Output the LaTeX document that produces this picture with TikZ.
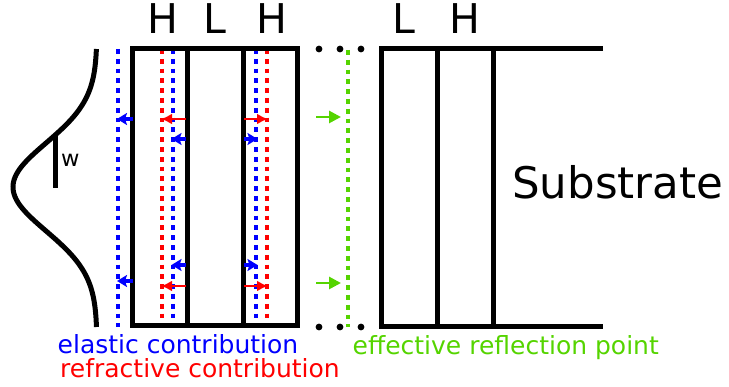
\documentclass[tikz,border=0pt]{standalone}
\usepackage{fontspec}
\setmainfont{DejaVu Sans}
\usetikzlibrary{arrows.meta}
\definecolor{elblue}{RGB}{0,0,255}
\definecolor{refred}{RGB}{255,0,0}
\definecolor{effgreen}{RGB}{85,212,0}

\tikzset{
  wall/.style={line width=5pt, black},
  dotline/.style={line width=4.6pt, dash pattern=on 4.8pt off 5pt},
  layerlabel/.style={anchor=base, inner sep=0pt, font=\fontsize{41}{41}\selectfont},
  caption/.style={anchor=base west, inner sep=0pt, font=\fontsize{25}{25}\selectfont},
  bluearrow/.style={elblue, line width=3.4pt, -{Stealth[length=10pt,width=12pt,inset=2pt]}},
  redarrow/.style={refred, line width=2.6pt, -{Latex[length=11pt,width=11pt]}},
  greenarrow/.style={effgreen, line width=2.8pt, -{Triangle[length=12pt,width=12pt]}},
  enddot/.style={black}
}

\begin{document}
\begin{tikzpicture}[x=1pt,y=-1pt]
\useasboundingbox (0,0) rectangle (729,387);

% beam profile (Gaussian) with its half width
\draw[line width=5pt] plot[domain=49:327, samples=120, smooth]
  ({97-84*exp(-0.5*((\x-187)/44)^2)}, \x);
\draw[line width=5pt] (55,135) -- (55,188);
\node[anchor=base west, inner sep=0pt, font=\fontsize{22.5}{22.5}\selectfont] (wlab) at (61,167) {w};

% elastic and refractive reflection planes
\draw[dotline, elblue] (118,49) -- (118,327);
\draw[dotline, refred] (162,49) -- (162,326);
\draw[dotline, elblue] (173,49) -- (173,326);
\draw[dotline, elblue] (256,49) -- (256,326);
\draw[dotline, refred] (267,49) -- (267,326);
% effective reflection plane
\draw[dotline, effgreen] (348,50) -- (348,327);

% first bilayers H L H
\draw[wall] (132,49) rectangle (297,326);
\draw[wall] (187,49) -- (187,326);
\draw[wall] (243,49) -- (243,326);

% last bilayer and substrate
\draw[wall] (603,49) -- (381,49) -- (381,327) -- (603,327);
\draw[wall] (437,49) -- (437,327);
\draw[wall] (493,49) -- (493,327);

% ellipsis dots
\foreach \px in {319,340,361}{
  \fill[enddot] (\px,49) circle (3.4pt);
  \fill[enddot] (\px,327) circle (3.4pt);
}

% shift arrows, upper row
\draw[bluearrow] (133,119) -- (117,119);
\draw[redarrow] (186,119) -- (161,119);
\draw[bluearrow] (186,139) -- (171.5,139);
\draw[redarrow] (244,119) -- (268,119);
\draw[bluearrow] (244,139) -- (257.5,139);
\draw[greenarrow] (316,117) -- (341,117);

% shift arrows, lower row
\draw[bluearrow] (133,281) -- (117,281);
\draw[bluearrow] (186,265) -- (171.5,265);
\draw[redarrow] (186,286) -- (161,286);
\draw[bluearrow] (244,265) -- (257.5,265);
\draw[redarrow] (244,286) -- (268,286);
\draw[greenarrow] (316,283) -- (341,283);

% layer labels
\node[layerlabel] (h1) at (163,34) {H};
\node[layerlabel] (l1) at (215,34) {L};
\node[layerlabel] (h2) at (272,34) {H};
\node[layerlabel] (l2) at (404,34) {L};
\node[layerlabel] (h3) at (465,34) {H};
\node[anchor=base west, inner sep=0pt, font=\fontsize{43.5}{43.5}\selectfont] (sub) at (512,199) {Substrate};

% legend
\node[caption, text=elblue] (elastic) at (57.5,353.5) {elastic contribution};
\node[caption, text=refred] (refractive) at (60,378) {refractive contribution};
\node[caption, text=effgreen] (effective) at (352.5,355) {effective reflection point};
\end{tikzpicture}
\end{document}
